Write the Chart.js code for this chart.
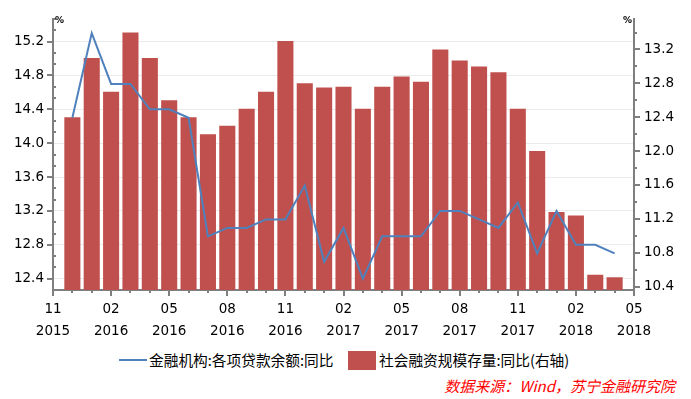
<!DOCTYPE html>
<html>
<head>
<meta charset="utf-8">
<script src="https://cdn.jsdelivr.net/npm/chart.js@4.4.1/dist/chart.umd.min.js"></script>
<style>
  html, body { margin: 0; padding: 0; background: #fff; }
  #wrap { position: relative; width: 691px; height: 399px; overflow: hidden; }
  #chart { position: absolute; left: 0; top: 0; }
  .lg { position: absolute; top: 350px; height: 20px; line-height: 20px; font-size: 14.7px;
        font-family: "Noto Sans CJK SC", sans-serif; color: #000; white-space: nowrap; }
  .lg-line { position: absolute; left: 119px; top: 359px; width: 28px; height: 2px; background: #4f81bd; }
  .lg-box { position: absolute; left: 348px; top: 351px; width: 28px; height: 19px; background: #c0504d; }
  #source { position: absolute; right: 16px; top: 375px; font-size: 15px; font-style: italic;
            font-family: "Noto Sans CJK SC", sans-serif; color: #ff0000; white-space: nowrap; }
</style>
</head>
<body>
<div id="wrap">
  <canvas id="chart" width="691" height="340"></canvas>
  <div class="lg-line"></div>
  <div class="lg" style="left:149px">金融机构:各项贷款余额:同比</div>
  <div class="lg-box"></div>
  <div class="lg" style="left:379px">社会融资规模存量:同比(右轴)</div>
  <div id="source">数据来源：Wind，苏宁金融研究院</div>
</div>
<script>
// months on the x axis, Nov 2015 .. May 2018
const monthLabels = [
  '2015-11', '2015-12',
  '2016-01', '2016-02', '2016-03', '2016-04', '2016-05', '2016-06',
  '2016-07', '2016-08', '2016-09', '2016-10', '2016-11', '2016-12',
  '2017-01', '2017-02', '2017-03', '2017-04', '2017-05', '2017-06',
  '2017-07', '2017-08', '2017-09', '2017-10', '2017-11', '2017-12',
  '2018-01', '2018-02', '2018-03', '2018-04', '2018-05'
];

// Dec 2015 .. Apr 2018
const loanGrowth = [
  14.3, 15.3, 14.7, 14.7, 14.4, 14.4, 14.3, 12.9, 13.0, 13.0, 13.1, 13.1, 13.5,
  12.6, 13.0, 12.4, 12.9, 12.9, 12.9, 13.2, 13.2, 13.1, 13.0, 13.3, 12.7,
  13.2, 12.8, 12.8, 12.7
];
const tsfGrowth = [
  12.4, 13.1, 12.7, 13.4, 13.1, 12.6, 12.4, 12.2, 12.3, 12.5, 12.7, 13.3, 12.8,
  12.75, 12.76, 12.5, 12.76, 12.88, 12.82, 13.2, 13.07, 13.0, 12.93, 12.5, 12.0,
  11.28, 11.24, 10.54, 10.51
];

const leftTicks = [12.4, 12.8, 13.2, 13.6, 14.0, 14.4, 14.8, 15.2];
const rightTicks = [10.4, 10.8, 11.2, 11.6, 12.0, 12.4, 12.8, 13.2];

const axisColor = '#7f7f7f';
const tickFont = { family: 'DejaVu Sans', size: 13.5 };

// no values for the first and last month
const pad = arr => [null, ...arr, null];

const axisMarks = {
  id: 'axisMarks',
  afterDraw(chart) {
    const { ctx, chartArea: area, scales: { x, yLeft, yRight } } = chart;
    ctx.save();
    ctx.strokeStyle = axisColor;
    ctx.lineWidth = 2;
    ctx.beginPath();

    // left axis: major ticks outside, minor ticks inside
    const lStep = 0.4 / 3;
    for (let v = leftTicks[0] - lStep; v < yLeft.max; v += lStep) {
      const y = Math.round(yLeft.getPixelForValue(v));
      const major = leftTicks.some(t => Math.abs(t - v) < 1e-6);
      ctx.moveTo(area.left - (major ? 6 : 0), y);
      ctx.lineTo(area.left + (major ? 0 : 3), y);
    }

    // right axis: all ticks outside
    for (let v = rightTicks[0]; v < yRight.max; v += 0.2) {
      const y = Math.round(yRight.getPixelForValue(v));
      const major = rightTicks.some(t => Math.abs(t - v) < 1e-6);
      ctx.moveTo(area.right, y);
      ctx.lineTo(area.right + (major ? 6 : 3), y);
    }
    // right axis runs a little past the x axis
    ctx.moveTo(area.right, area.bottom);
    ctx.lineTo(area.right, area.bottom + 5);

    // month ticks
    monthLabels.forEach((m, i) => {
      const px = Math.round(x.getPixelForValue(i));
      ctx.moveTo(px, area.bottom);
      ctx.lineTo(px, area.bottom + (i % 3 === 0 ? 6 : 3));
    });
    ctx.stroke();

    ctx.fillStyle = '#000';
    ctx.font = 'bold 9px "DejaVu Sans"';
    ctx.textBaseline = 'middle';
    ctx.textAlign = 'left';
    ctx.fillText('%', area.left + 2, area.top + 2);
    ctx.textAlign = 'right';
    ctx.fillText('%', area.right - 2, area.top + 2);
    ctx.restore();
  }
};

new Chart(document.getElementById('chart'), {
  type: 'bar',
  data: {
    labels: monthLabels,
    datasets: [
      {
        type: 'line',
        label: '金融机构:各项贷款余额:同比',
        data: pad(loanGrowth),
        yAxisID: 'yLeft',
        borderColor: '#4f81bd',
        borderWidth: 2,
        pointRadius: 0,
        tension: 0,
        order: 1
      },
      {
        label: '社会融资规模存量:同比(右轴)',
        data: pad(tsfGrowth),
        yAxisID: 'yRight',
        backgroundColor: '#c0504d',
        categoryPercentage: 1,
        barPercentage: 0.83,
        order: 2
      }
    ]
  },
  options: {
    responsive: false,
    animation: false,
    layout: { padding: { top: 19, left: 0, right: 0, bottom: 0 } },
    plugins: { legend: { display: false }, tooltip: { enabled: false } },
    scales: {
      x: {
        offset: false,
        grid: { display: false, drawTicks: false },
        border: { color: axisColor, width: 2 },
        ticks: {
          autoSkip: false,
          maxRotation: 0,
          padding: 8,
          color: '#000',
          font: { ...tickFont, lineHeight: 1.65 },
          callback: function (value, index) {
            if (index % 3 !== 0) return null;
            const [yy, mm] = this.getLabelForValue(value).split('-');
            return [mm, yy];
          }
        },
        afterFit: s => { s.height = 50; s.paddingLeft = 0; s.paddingRight = 0; }
      },
      yLeft: {
        position: 'left',
        min: 12.4 - 0.4 / 3,
        max: 15.2 + 0.8 / 3,
        afterBuildTicks: s => { s.ticks = leftTicks.map(v => ({ value: v })); },
        grid: { color: '#ebebeb', lineWidth: 1, drawTicks: false },
        border: { color: axisColor, width: 2 },
        ticks: { padding: 9, color: '#000', font: tickFont, callback: v => v.toFixed(1) },
        afterFit: s => { s.width = 53; s.paddingTop = 0; s.paddingBottom = 0; }
      },
      yRight: {
        position: 'right',
        min: 10.36,
        max: 13.56,
        afterBuildTicks: s => { s.ticks = rightTicks.map(v => ({ value: v })); },
        grid: { drawOnChartArea: false, drawTicks: false },
        border: { color: axisColor, width: 2 },
        ticks: { padding: 10, color: '#000', font: tickFont, callback: v => v.toFixed(1) },
        afterFit: s => { s.width = 57; s.paddingTop = 0; s.paddingBottom = 0; }
      }
    }
  },
  plugins: [axisMarks]
});
</script>
</body>
</html>
